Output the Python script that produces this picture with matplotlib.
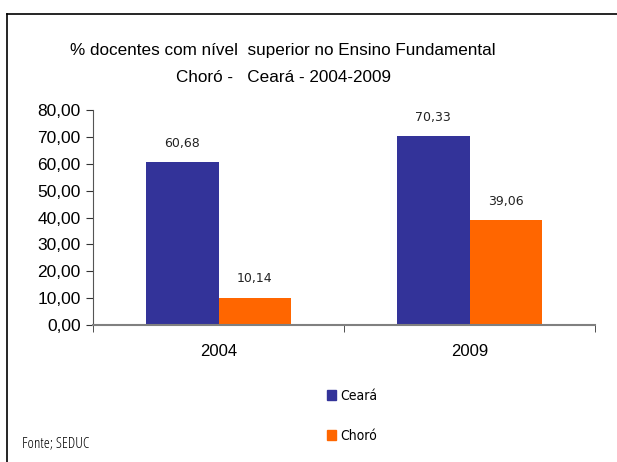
import matplotlib
matplotlib.use('Agg')
import matplotlib.pyplot as plt
import matplotlib.patches as mpatches
from matplotlib.lines import Line2D
import numpy as np

years = ['2004', '2009']
ceara = [60.68, 70.33]
choro = [10.14, 39.06]
series_names = ['Ceará', 'Choró']
yticks = [0, 10, 20, 30, 40, 50, 60, 70, 80]

BLUE = '#333399'
ORANGE = '#FF6600'
AXIS = '#808080'


def br(v):
    # decimal comma, as in the original
    return f'{v:.2f}'.replace('.', ',')


fig = plt.figure(figsize=(6.17, 4.62), dpi=100, facecolor='white')
ax = fig.add_axes([93 / 617, 1 - 325 / 462, (595 - 93) / 617, (325 - 110) / 462])

x = np.arange(len(years))
w = 0.29
b1 = ax.bar(x - w / 2, ceara, w, color=BLUE, label=series_names[0])
b2 = ax.bar(x + w / 2, choro, w, color=ORANGE, label=series_names[1])

for bars in (b1, b2):
    for rect in bars:
        h = rect.get_height()
        ax.annotate(br(h), (rect.get_x() + rect.get_width() / 2, h),
                    xytext=(0, 13.5), textcoords='offset points',
                    ha='center', va='center', fontsize=9,
                    family='DejaVu Sans', color='#222222')

ax.set_xlim(-0.5, len(years) - 0.5)
ax.set_ylim(0, 80)
ax.set_yticks(yticks)
ax.set_yticklabels([br(v) for v in yticks], fontsize=12.5, family='Liberation Sans')

# category labels in the middle, tick marks between categories
ax.set_xticks(x)
ax.set_xticklabels(years, fontsize=12, family='Liberation Sans')
ax.tick_params(axis='x', length=0, pad=14)
ax.set_xticks([-0.5, 0.5, 1.5], minor=True)
ax.tick_params(axis='x', which='minor', length=5, color='#333333', direction='out')
ax.tick_params(axis='y', length=5, color='#333333', pad=4)

for s in ('top', 'right'):
    ax.spines[s].set_visible(False)
ax.spines['left'].set_color('#555555')
ax.spines['bottom'].set_color(AXIS)
ax.spines['bottom'].set_linewidth(1.5)

fig.text(283 / 617, 1 - 50 / 462, '% docentes com nível  superior no Ensino Fundamental',
         ha='center', va='center', fontsize=12.3, family='Liberation Sans')
fig.text(284 / 617, 1 - 77 / 462, 'Choró -   Ceará - 2004-2009',
         ha='center', va='center', fontsize=12.3, family='Liberation Sans')

# outer frame (top and left edges only are visible)
fig.add_artist(Line2D([7 / 617, 1.0], [1 - 14 / 462] * 2, color='black', lw=1.2))
fig.add_artist(Line2D([7 / 617] * 2, [0, 1 - 14 / 462], color='black', lw=1.2))

handles = [mpatches.Patch(color=BLUE, label=series_names[0]),
           mpatches.Patch(color=ORANGE, label=series_names[1])]
fig.legend(handles=handles, loc='upper left', bbox_to_anchor=(314 / 617, 1 - 376 / 462),
           frameon=False, handlelength=0.7, handleheight=0.7, handletextpad=0.3,
           labelspacing=1.9, prop={'family': 'DejaVu Sans', 'size': 10, 'stretch': 'condensed'})

fig.text(22 / 617, 1 - 444 / 462, 'Fonte; SEDUC', ha='left', va='center',
         fontsize=11, family='Open Sans', stretch='condensed')

fig.savefig('out.png', dpi=100, facecolor='white')
